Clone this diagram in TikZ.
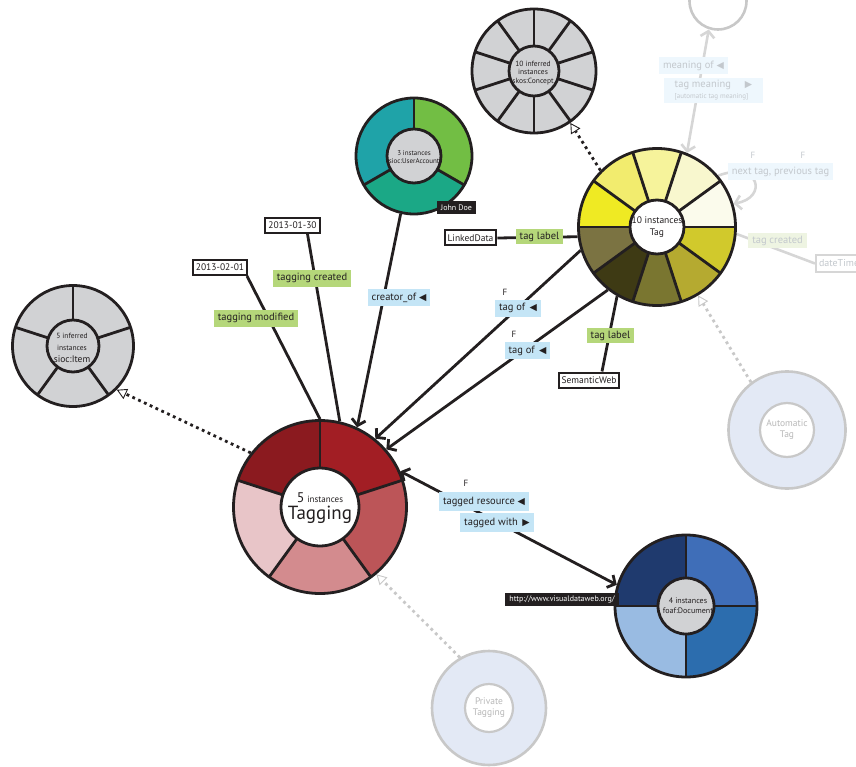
\documentclass[tikz,border=0pt]{standalone}
\usepackage{fontspec}
\setmainfont{PT Sans}
\newfontfamily\symfont{DejaVu Sans}
\usetikzlibrary{arrows.meta}

\definecolor{ink}{HTML}{231F20}
\definecolor{lblue}{HTML}{C4E5F6}
\definecolor{lgreen}{HTML}{B5D77A}
\definecolor{ringgray}{HTML}{D1D2D4}
\definecolor{fadeline}{HTML}{D6D6D6}
\definecolor{fadetext}{HTML}{C3C8CD}
\definecolor{fadeblue}{HTML}{EEF7FD}
\definecolor{fadegreen}{HTML}{EEF4E2}
\definecolor{fadefill}{HTML}{E3E9F5}
\definecolor{fadering}{HTML}{C8C8C8}
\definecolor{fadeinner}{HTML}{B8B8B8}
% Tagging
\definecolor{tga}{HTML}{A21E24}
\definecolor{tgb}{HTML}{8B1A1F}
\definecolor{tgc}{HTML}{E8C5C8}
\definecolor{tgd}{HTML}{D38B8E}
\definecolor{tge}{HTML}{BC5558}
% Tag
\definecolor{ya}{HTML}{FBFBEC}
\definecolor{yb}{HTML}{F8F7CE}
\definecolor{yc}{HTML}{F6F39B}
\definecolor{yd}{HTML}{F2EC6E}
\definecolor{ye}{HTML}{EFEA23}
\definecolor{yf}{HTML}{7B7342}
\definecolor{yg}{HTML}{3E3A14}
\definecolor{yh}{HTML}{7A7630}
\definecolor{yi}{HTML}{B5AA30}
\definecolor{yj}{HTML}{D1C92C}
% UserAccount
\definecolor{ua}{HTML}{1FA3A8}
\definecolor{ub}{HTML}{1BA886}
\definecolor{uc}{HTML}{72BE44}
% Document
\definecolor{da}{HTML}{3F6EB8}
\definecolor{db}{HTML}{1F3A6E}
\definecolor{dc}{HTML}{99BBE2}
\definecolor{dd}{HTML}{2C6DAE}

\newcommand\fsz[2]{\fontsize{#1}{#2}\selectfont}
\newcommand\lt{{\symfont\fsz{9.5}{10}◀}}
\newcommand\rt{{\symfont\fsz{9.5}{10}▶}}

% #1 name, #2 cx, #3 cy, #4 outer r, #5 inner r, #6 start angle, #7 step, #8 colours, #9 inner fill
\newcommand\drawring[9]{%
  \node[ringnode, minimum size={(2*#4+2.8)*1pt}] (#1) at (#2,#3) {};
  \foreach \c [count=\i from 0] in {#8} {
    \fill[\c] (#2,#3) -- ++({#6+\i*#7}:#4) arc[start angle={#6+\i*#7}, delta angle=#7, radius=#4] -- cycle;
  }
  \foreach \c [count=\i from 0] in {#8} {
    \draw[ringline] (#2,#3) -- ++({#6+\i*#7}:#4);
  }
  \draw[ringline, fill=#9] (#2,#3) circle[radius=#5];
  \draw[ringline] (#2,#3) circle[radius=#4];
}
% faded ring: #1 name, #2 cx, #3 cy, #4 outer r, #5 inner r
\newcommand\drawfaded[5]{%
  \node[ringnode, minimum size={(2*#4+2.6)*1pt}] (#1) at (#2,#3) {};
  \draw[fadering, line width=2.6pt, fill=fadefill] (#2,#3) circle[radius=#4];
  \draw[fadering, line width=2.2pt, fill=white] (#2,#3) circle[radius=#5];
}

\begin{document}
\begin{tikzpicture}[x=1pt,y=1pt,
  ringnode/.style={circle, inner sep=0pt, outer sep=0pt, draw=none},
  ringline/.style={draw=ink, line width=2.8pt},
  edgeline/.style={draw=ink, line width=2.8pt},
  barb/.style={-{Straight Barb[length=6pt,width=14pt]}},
  barbs/.style={{Straight Barb[length=6pt,width=14pt]}-{Straight Barb[length=6pt,width=14pt]}},
  dotline/.style={draw=ink, line width=2.8pt, dash pattern=on 2.8pt off 3.6pt,
    -{Triangle[fill=white, length=10pt, width=11pt, line width=0.9pt]}},
  fdotline/.style={dotline, draw=fadering},
  fedge/.style={draw=fadeline, line width=2.6pt},
  lbl/.style={fill=lblue, text=ink, inner xsep=4pt, inner ysep=0pt, minimum height=17pt, font=\fsz{10.5}{12}},
  glbl/.style={lbl, fill=lgreen},
  flbl/.style={lbl, fill=fadeblue, text=fadetext},
  fglbl/.style={lbl, fill=fadegreen, text=fadetext},
  lit/.style={draw=ink, line width=2pt, fill=white, text=ink, inner xsep=3pt, inner ysep=0pt, minimum height=15pt, font=\fsz{9.5}{11}},
  dlbl/.style={fill=ink, text=white, inner xsep=4pt, inner ysep=0pt, minimum height=13pt, font=\fsz{8}{10}},
  fmark/.style={text=ink, inner sep=0pt, font=\fsz{9}{10}},
  ctext/.style={align=center, text=ink, inner sep=0pt},
  ftext/.style={align=center, text=fadeinner, inner sep=0pt, font=\fsz{9.5}{11}}
]
\useasboundingbox (0,0) rectangle (856,-767);
\clip (0,0) rectangle (856,-767);

% ---------- faded part (background) ----------
\node[ringnode, minimum size=60pt] (topc) at (718,-1) {};
\draw[fadering, line width=2.6pt] (718,-1) circle[radius=28.5];
\drawfaded{auto}{787}{-430}{58.5}{27}
\drawfaded{priv}{489}{-708}{57}{24}

% ---------- literal boxes ----------
\node[lit] (d0130) at (292.5,-225.5) {2013-01-30};
\node[lit] (d0201) at (220,-267.5) {2013-02-01};
\node[lit] (ld) at (470.5,-238) {LinkedData};
\node[lit] (sw) at (589,-380) {SemanticWeb};
\node[draw=fadeline, line width=2pt, fill=white, text=fadetext, inner xsep=3pt, inner ysep=0pt,
      minimum height=16pt, font=\fsz{10}{11}, anchor=west] (dt) at (815,-263.5) {dateTime};

% ---------- anchor nodes for the rings ----------
\node[ringnode, minimum size={(2*78.5+2.8)*1pt}] (tagpre) at (657,-227) {};
\node[ringnode, minimum size={(2*86.5+2.8)*1pt}] (tgpre) at (320,-507) {};
\node[ringnode, minimum size={(2*58+2.8)*1pt}] (userpre) at (414,-156) {};
\node[ringnode, minimum size={(2*71+2.8)*1pt}] (docpre) at (686,-606) {};
\node[ringnode, minimum size={(2*62+2.8)*1pt}] (skospre) at (534,-71) {};
\node[ringnode, minimum size={(2*60.5+2.8)*1pt}] (siocpre) at (73,-346) {};

% ---------- faded connectors ----------
\draw[fedge, barbs] (tagpre.68) -- (topc.252);
\draw[fedge, -{Straight Barb[length=6pt,width=14pt]}] (tagpre.40) .. controls (760,-160) and (768,-198) .. (tagpre.17);
\draw[fedge] (tagpre.-5) -- (dt.west);
\draw[fdotline] (auto.127) -- (tagpre.-59);
\draw[fdotline] (priv.120) -- (tgpre.-50);

% faded labels
\node[flbl] (mof) at (693.5,-65.5) {meaning of \lt};
\node[flbl, align=left, minimum height=25pt, minimum width=99pt] (tmean) at (713.5,-90.5)
  {{\fsz{10.5}{11}tag meaning\hspace{14pt}\rt}\\[-1pt]{\fsz{7}{8}[automatic tag meaning]}};
\node[flbl] (ntag) at (780.5,-172) {next tag, previous tag};
\node[text=fadetext, inner sep=0pt, font=\fsz{9}{10}] (ff1) at (753,-155) {F};
\node[text=fadetext, inner sep=0pt, font=\fsz{9}{10}] (ff2) at (803,-155) {F};
\node[fglbl, minimum height=15pt] (tcr) at (777.5,-241) {tag created};
\node[ftext] (autotxt) at (auto) {Automatic\\Tag};
\node[ftext] (privtxt) at (priv) {Private\\Tagging};

% ---------- main connectors ----------
\draw[edgeline] ([xshift=27pt]d0201.south) -- (tgpre.90);
\draw[edgeline] ([xshift=15pt]d0130.south) -- (tgpre.77);
\draw[edgeline, barb] (userpre.257) -- (tgpre.65);
\draw[edgeline, barb] (tagpre.197) -- (tgpre.51);
\draw[edgeline, barb] (tagpre.232) -- (tgpre.41);
\draw[edgeline, barbs] (tgpre.24) -- (docpre.163);
\draw[edgeline] (ld.east) -- (tagpre.187);
\draw[edgeline] ([xshift=13pt]sw.north) -- (tagpre.240);
\draw[dotline] (tagpre.135) -- (skospre.-55);
\draw[dotline] (tgpre.142) -- (siocpre.-45);

% ---------- rings ----------
\drawring{skos}{534}{-71}{62}{25}{18}{36}{ringgray,ringgray,ringgray,ringgray,ringgray,ringgray,ringgray,ringgray,ringgray,ringgray}{ringgray}
\drawring{user}{414}{-156}{58}{27}{90}{120}{ua,ub,uc}{ringgray}
\drawring{tag}{657}{-227}{78.5}{27}{0}{36}{ya,yb,yc,yd,ye,yf,yg,yh,yi,yj}{white}
\drawring{sioc}{73}{-346}{60.5}{26}{18}{72}{ringgray,ringgray,ringgray,ringgray,ringgray}{ringgray}
\drawring{tagging}{320}{-507}{86.5}{39}{18}{72}{tga,tgb,tgc,tgd,tge}{white}
\drawring{doc}{686}{-606}{71}{28}{0}{90}{da,db,dc,dd}{ringgray}

% ring texts
\node[ctext, font=\fsz{7.5}{8.5}] (skostxt) at (533,-73) {10 inferred\\instances\\skos:Concept};
\node[ctext, font=\fsz{7}{8.5}] (usertxt) at (414,-157) {3 instances\\sioc:UserAccount};
\node[ctext, font=\fsz{9.5}{11.5}] (tagtxt) at (657,-227) {10 instances\\Tag};
\node[ctext] (sioctxt) at (72,-348) {{\fsz{7.5}{9}5 inferred}\\{\fsz{7.5}{9}instances}\\{\fsz{9.5}{11}sioc:Item}};
\node[ctext] (taggingtxt) at (320,-508) {{\fsz{14}{16}5} {\fsz{9}{10}instances}\\[2pt]{\fsz{19}{20}Tagging}};
\node[ctext, font=\fsz{8}{10}] (doctxt) at (688,-606) {4 instances\\foaf:Document};

% ---------- main labels ----------
\node[glbl] (tcreated) at (312,-278) {tagging created};
\node[glbl] (tmod) at (256,-318) {tagging modified};
\node[lbl] (creator) at (399,-297.5) {creator\_of \lt};
\node[glbl, minimum height=15pt] (tl1) at (539.5,-236.5) {tag label};
\node[glbl, minimum height=15pt] (tl2) at (610.5,-335.5) {tag label};
\node[lbl] (tof1) at (518,-308) {tag of \,\lt};
\node[fmark] (f1) at (505,-292) {F};
\node[lbl] (tof2) at (527.5,-350.5) {tag of \,\lt};
\node[fmark] (f2) at (514,-334) {F};
\node[lbl, minimum height=19pt] (tres) at (484,-501.5) {tagged resource \lt};
\node[fmark] (f3) at (466,-483) {F};
\node[lbl, minimum height=19pt] (twith) at (497,-522.5) {tagged with \,\rt};
\node[dlbl] (jd) at (456.5,-208) {John Doe};
\node[dlbl] (url) at (562,-599) {http://www.visualdataweb.org/};
\end{tikzpicture}
\end{document}
